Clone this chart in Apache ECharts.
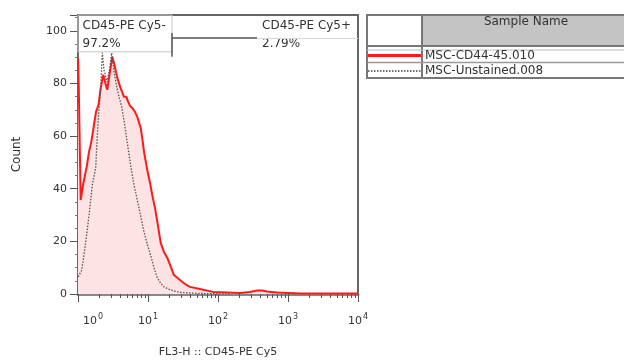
<!DOCTYPE html>
<html>
<head>
<meta charset="utf-8">
<script src="https://cdn.jsdelivr.net/npm/echarts@6/dist/echarts.min.js"></script>
<style>html,body{margin:0;padding:0;background:#fff}#c{width:624px;height:361px}</style>
</head>
<body>
<div id="c"></div>
<script>
// ---- data ----
const redChannel = [1.0, 1.027, 1.093, 1.178, 1.331, 1.436, 1.549, 1.693, 1.808, 1.963, 2.109, 2.298, 2.43, 2.622, 2.818, 3.09, 3.32, 3.642, 4.05, 4.54, 4.95, 5.06, 5.53, 5.97, 6.52, 7.03, 7.87, 8.35, 8.77, 9.77, 10.7, 11.5, 12.6, 13.6, 15.2, 16.9, 18.9, 21, 23.5, 28.6, 33.8, 39.8, 55.3, 84.8, 134, 206, 286, 361, 425, 501, 697, 1480, 10000];
const redCount   = [89.7, 77.6, 35.7, 41.4, 48.3, 54, 57.8, 64.3, 69.2, 71.9, 78.3, 83.3, 80.6, 77.6, 83.3, 90.1, 87.1, 82.1, 78.3, 74.9, 74.9, 73.8, 71.5, 70.7, 69.2, 67.3, 63.1, 58.6, 54, 47.1, 42.2, 37.6, 32.7, 27.4, 19.4, 16, 13.7, 10.6, 7.2, 5.3, 3.8, 2.7, 1.9, 0.8, 0.6, 0.4, 0.8, 1.3, 1.3, 0.95, 0.6, 0.2, 0.2];
const grayChannel = [1.01, 1.13, 1.2, 1.29, 1.44, 1.6, 1.79, 1.89, 1.995, 2.11, 2.23, 2.35, 2.6, 2.82, 3.03, 3.27, 3.57, 3.85, 4.21, 4.69, 5.23, 5.72, 6.31, 7.44, 8.77, 9.84, 10.9, 12.2, 13.6, 15.1, 16.9, 21.1, 28.6, 55, 148];
const grayCount   = [6.5, 9.1, 13.7, 19.8, 30, 41.4, 47.9, 60.5, 70, 78.3, 91.6, 85.2, 80.6, 85.2, 91.6, 84.4, 78.8, 74.9, 71.2, 63.6, 54.8, 47.9, 41.4, 32.7, 23.6, 18.6, 14.8, 9.9, 6.1, 4.2, 2.7, 1.5, 0.6, 0.2, 0];
const xDecades = [0, 1, 2, 3, 4];            // tick labels 10^0 .. 10^4
const yTickStep = 20;                         // tick labels 0..100
const sampleNames = ['MSC-CD44-45.010', 'MSC-Unstained.008'];
const gateNames = ['CD45-PE Cy5-', 'CD45-PE Cy5+'];
const gatePercents = ['97.2%', '2.79%'];
const gateSplitChannel = 22;

// ---- build ----
const L = v => Math.log10(v);
const redData = redChannel.map((c, i) => [L(c), redCount[i]]);
const grayData = grayChannel.map((c, i) => [L(c), grayCount[i]]);
const minorVals = [];
for (let d = 0; d < 4; d++) for (let k = 2; k <= 9; k++) minorVals.push(L(k * Math.pow(10, d)));
const gs = L(gateSplitChannel);
const FONT = 'DejaVu Sans';
const TXT = '#333';

const chart = echarts.init(document.getElementById('c'), null, {renderer: 'canvas'});
chart.setOption({
  animation: false,
  backgroundColor: '#fff',
  grid: {left: 78, top: 15, right: 266, bottom: 67, outerBoundsMode: 'none', containLabel: false,
    show: true, borderColor: '#666', borderWidth: 2, backgroundColor: 'transparent'},
  xAxis: [{
    type: 'value', min: xDecades[0], max: xDecades[xDecades.length - 1], interval: 1,
    name: 'FL3-H :: CD45-PE Cy5', nameLocation: 'middle', nameGap: 53,
    nameTextStyle: {fontFamily: FONT, fontSize: 11, color: TXT},
    axisLine: {lineStyle: {color: '#888', width: 3}},
    axisTick: {length: 8, lineStyle: {color: '#555', width: 1}},
    splitLine: {show: false},
    axisLabel: {
      margin: 19, alignMinLabel: 'left',
      formatter: v => (v === 0 ? '{p|}' : '') + '{b|10}{s|' + v + '}',
      rich: {
        p: {width: 5},
        b: {fontFamily: FONT, fontSize: 11, color: TXT},
        s: {fontFamily: FONT, fontSize: 8, color: TXT, padding: [0, 0, 9, 1]}
      }
    }
  }, {
    type: 'value', min: 0, max: 4, position: 'bottom', gridIndex: 0,
    axisLine: {show: false}, axisLabel: {show: false}, splitLine: {show: false},
    axisTick: {show: true, length: 4, customValues: minorVals, lineStyle: {color: '#555', width: 1}}
  }],
  yAxis: {
    type: 'value', min: 0, max: 106, interval: yTickStep,
    name: 'Count', nameLocation: 'middle', nameGap: 55,
    nameTextStyle: {fontFamily: FONT, fontSize: 12, color: TXT},
    axisLine: {show: true, lineStyle: {color: '#666', width: 2}},
    axisTick: {show: true, length: 8, lineStyle: {color: '#555'}},
    minorTick: {show: true, splitNumber: 4, length: 3, lineStyle: {color: '#777'}},
    splitLine: {show: false},
    axisLabel: {showMaxLabel: false, margin: 11, fontFamily: FONT, fontSize: 11, color: TXT,
      formatter: v => (v % yTickStep === 0 ? String(v) : '')}
  },
  series: [{
    name: sampleNames[0], type: 'line', data: redData, symbol: 'none', z: 3,
    lineStyle: {color: '#ff1a1a', width: 2},
    areaStyle: {color: '#fde3e3', opacity: 1},
    markArea: {
      silent: true,
      itemStyle: {color: 'rgba(255,255,255,0)', borderColor: '#c8c8c8', borderWidth: 1},
      label: {show: true, position: 'insideTopLeft', distance: 0, padding: [2, 0, 0, 5],
        fontFamily: FONT, fontSize: 12, color: TXT, lineHeight: 18},
      data: [
        [{coord: [0, 106], name: gateNames[0] + '\n' + gatePercents[0]}, {coord: [gs, 92]}],
        [{coord: [L(361), 106], name: gateNames[1] + '\n' + gatePercents[1], itemStyle: {borderWidth: 0}}, {coord: [4, 97.3]}]
      ]
    },
    markLine: {
      silent: true, symbol: 'none', label: {show: false},
      data: [
        [{coord: [gs, 97.3], lineStyle: {color: '#555', width: 1.5, type: 'solid'}}, {coord: [L(361), 97.3]}],
        [{coord: [L(361), 97.3], lineStyle: {color: '#d8d8d8', width: 1, type: 'solid'}}, {coord: [4, 97.3]}],
        [{coord: [gs, 90.1], lineStyle: {color: '#555', width: 1.5, type: 'solid'}}, {coord: [gs, 99.2]}]
      ]
    }
  }, {
    name: sampleNames[1], type: 'line', data: grayData, symbol: 'none', z: 4,
    lineStyle: {color: '#555', width: 1.3, type: [1.5, 1.5]}
  }],
  graphic: [
    {type: 'rect', shape: {x: 422, y: 15, width: 210, height: 31}, style: {fill: '#c4c4c4'}},
    {type: 'rect', shape: {x: 367, y: 15, width: 270, height: 63}, style: {fill: 'none', stroke: '#777', lineWidth: 2}},
    {type: 'line', shape: {x1: 422, y1: 15, x2: 422, y2: 78}, style: {stroke: '#777', lineWidth: 2}},
    {type: 'line', shape: {x1: 367, y1: 46, x2: 632, y2: 46}, style: {stroke: '#777', lineWidth: 2}},
    {type: 'line', shape: {x1: 367, y1: 50, x2: 632, y2: 50}, style: {stroke: '#bbb', lineWidth: 1}},
    {type: 'line', shape: {x1: 367, y1: 62.5, x2: 632, y2: 62.5}, style: {stroke: '#999', lineWidth: 1.5}},
    {type: 'line', shape: {x1: 368, y1: 55.5, x2: 421, y2: 55.5}, style: {stroke: '#ff1a1a', lineWidth: 3}},
    {type: 'line', shape: {x1: 368, y1: 71, x2: 421, y2: 71}, style: {stroke: '#444', lineWidth: 1.5, lineDash: [1.5, 1.5]}},
    {type: 'text', x: 526, y: 22, style: {text: 'Sample Name', font: '12px "DejaVu Sans"', fill: TXT, align: 'center', verticalAlign: 'middle'}},
    {type: 'text', x: 425, y: 56, style: {text: sampleNames[0], font: '12px "DejaVu Sans"', fill: TXT, align: 'left', verticalAlign: 'middle'}},
    {type: 'text', x: 425, y: 71, style: {text: sampleNames[1], font: '12px "DejaVu Sans"', fill: TXT, align: 'left', verticalAlign: 'middle'}}
  ]
});
</script>
</body>
</html>
